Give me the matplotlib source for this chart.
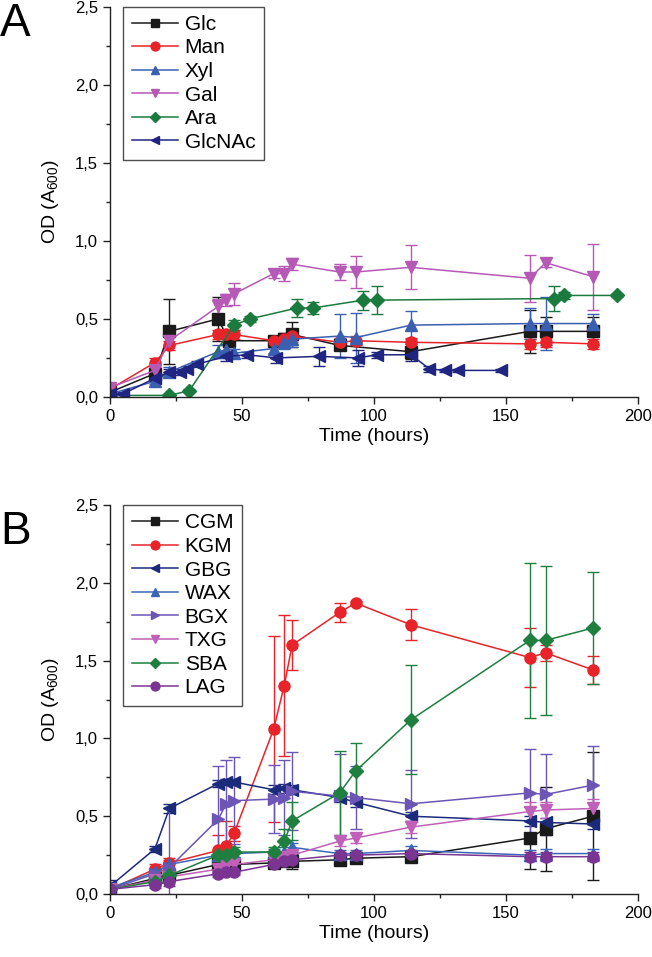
import matplotlib
matplotlib.use('Agg')
import matplotlib.pyplot as plt
from matplotlib.ticker import MultipleLocator, FuncFormatter

plt.rcParams['font.family'] = ['Liberation Sans', 'DejaVu Sans']
plt.rcParams['mathtext.fontset'] = 'custom'
plt.rcParams['mathtext.rm'] = 'Liberation Sans'
plt.rcParams['mathtext.it'] = 'Liberation Sans'

# ---- Panel A: monosaccharides ----
glc_t = [0, 17, 22.5, 41, 45, 62, 66, 69, 87, 114, 159, 165, 183]
glc_y = [0.03, 0.15, 0.42, 0.50, 0.36, 0.36, 0.37, 0.40, 0.33, 0.29, 0.42, 0.42, 0.42]
glc_e = [0.01, 0.03, 0.21, 0.14, 0.04, 0.03, 0.04, 0.08, 0.03, 0.05, 0.14, 0.09, 0.09]

man_t = [0, 17, 22.5, 41, 44, 47, 62, 66, 69, 87, 93, 114, 159, 165, 183]
man_y = [0.05, 0.22, 0.33, 0.40, 0.40, 0.40, 0.36, 0.37, 0.39, 0.35, 0.36, 0.35, 0.34, 0.35, 0.34]
man_e = [0.01, 0.03, 0.03, 0.03, 0.02, 0.03, 0.02, 0.03, 0.04, 0.03, 0.03, 0.03, 0.03, 0.03, 0.03]

xyl_t = [0, 17, 22.5, 41, 44, 47, 62, 66, 69, 87, 93, 114, 159, 165, 183]
xyl_y = [0.02, 0.10, 0.16, 0.29, 0.30, 0.28, 0.31, 0.35, 0.37, 0.39, 0.38, 0.46, 0.47, 0.47, 0.47]
xyl_e = [0.01, 0.02, 0.03, 0.04, 0.04, 0.03, 0.03, 0.04, 0.05, 0.14, 0.16, 0.09, 0.10, 0.17, 0.06]

gal_t = [0, 17, 22.5, 41, 44, 47, 62, 66, 69, 87, 93, 114, 159, 165, 183]
gal_y = [0.06, 0.17, 0.36, 0.58, 0.62, 0.66, 0.79, 0.79, 0.85, 0.80, 0.80, 0.83, 0.76, 0.86, 0.77]
gal_e = [0.02, 0.03, 0.03, 0.05, 0.04, 0.07, 0.03, 0.05, 0.04, 0.05, 0.10, 0.14, 0.15, 0.03, 0.21]

ara_t = [0, 22.5, 30, 47, 53, 71, 77, 96, 101, 168, 172, 192]
ara_y = [0.01, 0.01, 0.04, 0.46, 0.50, 0.57, 0.57, 0.62, 0.62, 0.63, 0.65, 0.65]
ara_e = [0.01, 0.01, 0.01, 0.03, 0.02, 0.06, 0.04, 0.06, 0.09, 0.08, 0.02, 0.01]

nac_t = [0, 5, 17, 22.5, 26.5, 29, 33, 44, 52, 63, 79, 94, 101, 114, 121, 127, 132, 148]
nac_y = [0.02, 0.02, 0.12, 0.16, 0.16, 0.18, 0.21, 0.26, 0.27, 0.25, 0.26, 0.25, 0.27, 0.27, 0.18, 0.17, 0.17, 0.17]
nac_e = [0.01, 0.01, 0.02, 0.02, 0.02, 0.02, 0.02, 0.03, 0.02, 0.03, 0.06, 0.05, 0.02, 0.04, 0.02, 0.01, 0.01, 0.01]

# ---- Panel B: polysaccharides (shared sampling times) ----
tb = [0, 17, 22.5, 41, 44, 47, 62, 66, 69, 87, 93, 114, 159, 165, 183]

cgm_y = [0.03, 0.10, 0.12, 0.19, 0.19, 0.19, 0.20, 0.21, 0.21, 0.22, 0.23, 0.24, 0.36, 0.42, 0.50]
cgm_e = [0.02, 0.02, 0.02, 0.02, 0.02, 0.02, 0.02, 0.03, 0.05, 0.02, 0.02, 0.02, 0.20, 0.27, 0.41]

kgm_y = [0.03, 0.16, 0.20, 0.28, 0.31, 0.39, 1.06, 1.34, 1.60, 1.81, 1.87, 1.73, 1.52, 1.55, 1.44]
kgm_e = [0.02, 0.03, 0.03, 0.10, 0.16, 0.05, 0.60, 0.45, 0.16, 0.06, 0.01, 0.10, 0.19, 0.05, 0.09]

gbg_y = [0.05, 0.29, 0.55, 0.71, 0.72, 0.72, 0.67, 0.68, 0.67, 0.62, 0.59, 0.50, 0.47, 0.46, 0.45]
gbg_e = [0.04, 0.02, 0.03, 0.02, 0.02, 0.02, 0.03, 0.03, 0.03, 0.03, 0.03, 0.03, 0.03, 0.03, 0.03]

wax_y = [0.04, 0.14, 0.19, 0.25, 0.26, 0.26, 0.27, 0.27, 0.30, 0.26, 0.26, 0.28, 0.25, 0.26, 0.26]
wax_e = [0.02, 0.02, 0.03, 0.02, 0.02, 0.02, 0.02, 0.03, 0.03, 0.02, 0.02, 0.03, 0.03, 0.03, 0.03]

bgx_y = [0.03, 0.13, 0.17, 0.48, 0.58, 0.60, 0.61, 0.62, 0.66, 0.63, 0.62, 0.58, 0.65, 0.64, 0.70]
bgx_e = [0.02, 0.03, 0.38, 0.34, 0.28, 0.28, 0.22, 0.24, 0.25, 0.27, 0.20, 0.22, 0.28, 0.26, 0.25]

txg_y = [0.03, 0.09, 0.11, 0.16, 0.18, 0.19, 0.22, 0.24, 0.25, 0.34, 0.36, 0.43, 0.53, 0.54, 0.55]
txg_e = [0.02, 0.02, 0.02, 0.02, 0.02, 0.02, 0.02, 0.02, 0.03, 0.03, 0.03, 0.04, 0.06, 0.05, 0.06]

sba_y = [0.03, 0.08, 0.12, 0.25, 0.25, 0.27, 0.27, 0.34, 0.47, 0.65, 0.79, 1.12, 1.63, 1.63, 1.71]
sba_e = [0.02, 0.02, 0.03, 0.03, 0.03, 0.03, 0.03, 0.08, 0.12, 0.27, 0.18, 0.35, 0.50, 0.48, 0.36]

lag_y = [0.03, 0.06, 0.08, 0.13, 0.14, 0.14, 0.19, 0.21, 0.22, 0.25, 0.25, 0.26, 0.24, 0.24, 0.24]
lag_e = [0.02, 0.02, 0.03, 0.02, 0.02, 0.02, 0.02, 0.02, 0.02, 0.02, 0.02, 0.02, 0.03, 0.03, 0.03]


def style_axis(ax):
    ax.set_xlim(0, 200)
    ax.set_ylim(0, 2.5)
    ax.spines['top'].set_visible(False)
    ax.spines['right'].set_visible(False)
    for s in ['left', 'bottom']:
        ax.spines[s].set_linewidth(1.0)
        ax.spines[s].set_color('#222222')
    ax.xaxis.set_major_locator(MultipleLocator(50))
    ax.xaxis.set_minor_locator(MultipleLocator(25))
    ax.yaxis.set_major_locator(MultipleLocator(0.5))
    ax.yaxis.set_minor_locator(MultipleLocator(0.25))
    ax.yaxis.set_major_formatter(FuncFormatter(lambda v, p: '{0:.1f}'.format(v).replace('.', ',')))
    ax.tick_params(which='major', direction='out', length=5, width=1.0, labelsize=12, color='#222222')
    ax.tick_params(which='minor', direction='out', length=3, width=1.0, color='#222222')
    ax.set_xlabel('Time (hours)', fontsize=14, labelpad=3)
    ax.set_ylabel('OD (A$_{600}$)', fontsize=14)
    ax.yaxis.set_label_coords(-0.092, 0.5)


def draw(ax, t, y, e, color, marker, label):
    ms = 7 if marker == 'D' else 8
    ax.errorbar(t, y, yerr=e, color=color, marker=marker, markersize=ms, lw=1.1,
                elinewidth=1.0, capsize=4, capthick=1.0, label=label)


fig = plt.figure(figsize=(6.52, 9.57), dpi=100)
ax1 = fig.add_axes([0.1687, 0.5852, 0.8098, 0.408])
ax2 = fig.add_axes([0.1687, 0.0658, 0.8098, 0.4065])

draw(ax1, glc_t, glc_y, glc_e, '#1a1a1a', 's', 'Glc')
draw(ax1, man_t, man_y, man_e, '#e8232a', 'o', 'Man')
draw(ax1, xyl_t, xyl_y, xyl_e, '#3a5fb0', '^', 'Xyl')
draw(ax1, gal_t, gal_y, gal_e, '#b559b5', 'v', 'Gal')
draw(ax1, ara_t, ara_y, ara_e, '#1b7a3e', 'D', 'Ara')
draw(ax1, nac_t, nac_y, nac_e, '#1f2580', '<', 'GlcNAc')

draw(ax2, tb, cgm_y, cgm_e, '#1a1a1a', 's', 'CGM')
draw(ax2, tb, kgm_y, kgm_e, '#e8232a', 'o', 'KGM')
draw(ax2, tb, gbg_y, gbg_e, '#1c2a7c', '<', 'GBG')
draw(ax2, tb, wax_y, wax_e, '#3a66b5', '^', 'WAX')
draw(ax2, tb, bgx_y, bgx_e, '#6b55b5', '>', 'BGX')
draw(ax2, tb, txg_y, txg_e, '#c060b8', 'v', 'TXG')
draw(ax2, tb, sba_y, sba_e, '#1e7f3f', 'D', 'SBA')
draw(ax2, tb, lag_y, lag_e, '#7a3593', 'o', 'LAG')

for ax in (ax1, ax2):
    style_axis(ax)
    handles, labels = ax.get_legend_handles_labels()
    handles = [h[0] for h in handles]
    leg = ax.legend(handles, labels, loc='upper left', bbox_to_anchor=(0.025, 1.0),
                    fontsize=15, frameon=True, fancybox=False, edgecolor='#222222',
                    handlelength=2.25, handletextpad=0.3, labelspacing=0.22,
                    borderpad=0.4, borderaxespad=0.0, markerscale=0.8)
    leg.get_frame().set_linewidth(1.0)

fig.text(0.0, 1 - 2 / 957, 'A', fontsize=33, ha='left', va='top')
fig.text(0.0, 1 - 510 / 957, 'B', fontsize=33, ha='left', va='top')

plt.savefig('out.png', dpi=100)
